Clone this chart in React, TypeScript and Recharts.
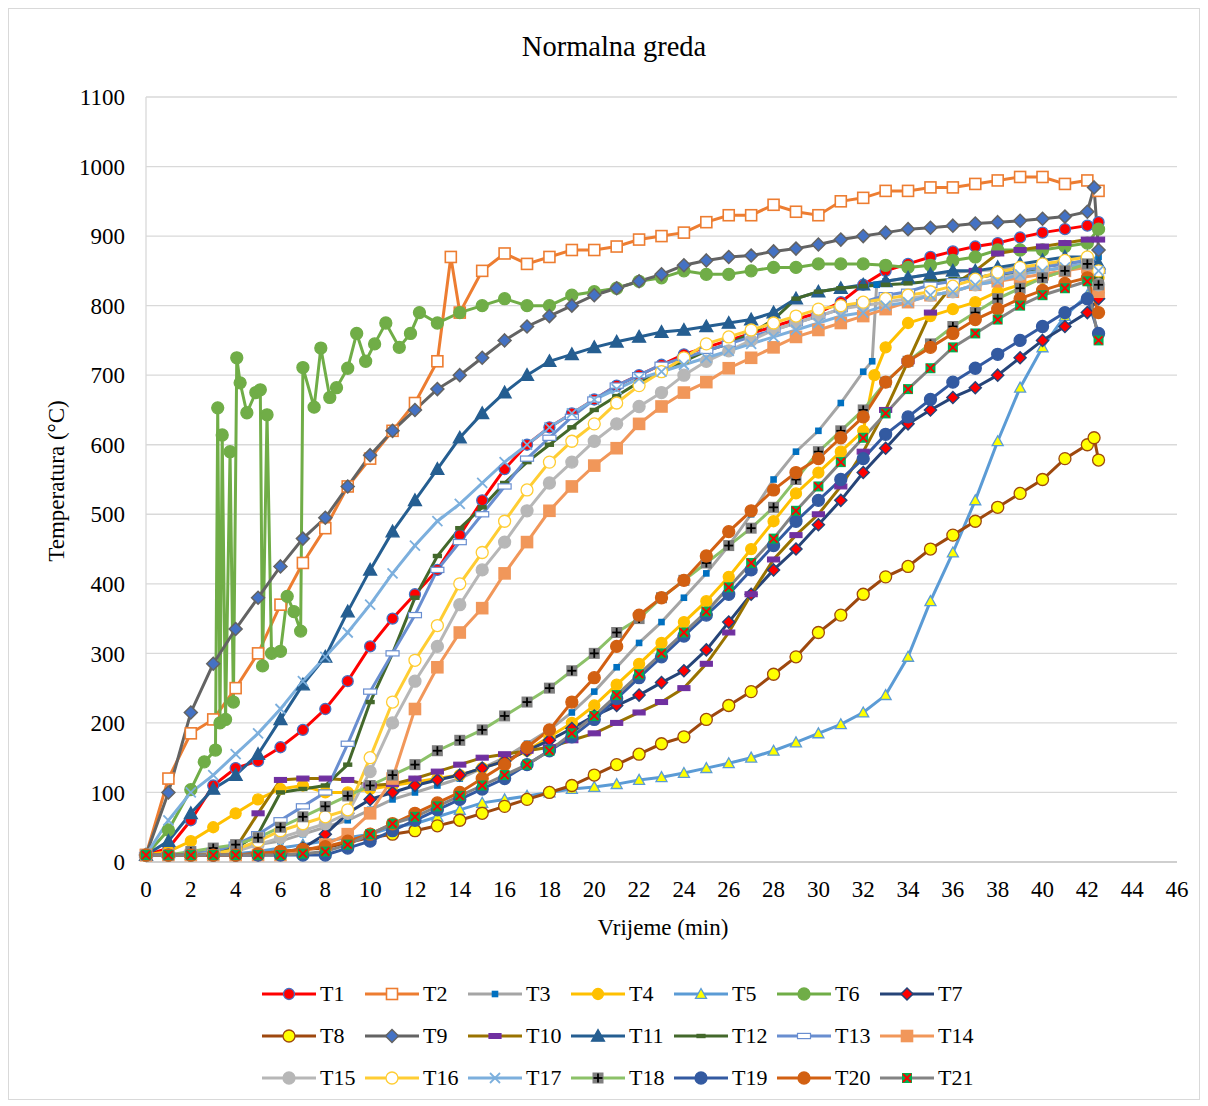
import React from "react";
import { LineChart, Line, XAxis, YAxis, CartesianGrid } from "recharts";

const FONT = '"Liberation Serif", "Times New Roman", serif';

// time grid shared by most series (minutes)
const minutes = [
  0, 1, 2, 3, 4, 5, 6, 7, 8, 9, 10, 11, 12, 13, 14, 15, 16, 17, 18, 19, 20, 21,
  22, 23, 24, 25, 26, 27, 28, 29, 30, 31, 32, 33, 34, 35, 36, 37, 38, 39, 40, 41,
  42, 42.5,
];

const xTicks = [0, 2, 4, 6, 8, 10, 12, 14, 16, 18, 20, 22, 24, 26, 28, 30, 32, 34, 36, 38, 40, 42, 44, 46];
const yTicks = [0, 100, 200, 300, 400, 500, 600, 700, 800, 900, 1000, 1100];

// temperatures (°C), one per entry of `minutes`
const t1 = [10, 20, 60, 110, 135, 145, 165, 190, 220, 260, 310, 350, 385, 420, 470, 520, 565, 600, 625, 645, 665, 685, 700, 715, 730, 740, 750, 760, 770, 780, 790, 805, 830, 850, 860, 870, 878, 885, 890, 898, 905, 910, 915, 920];
const t2 = [10, 120, 185, 205, 250, 300, 370, 430, 480, 540, 580, 620, 660, 720, 790, 850, 875, 860, 870, 880, 880, 885, 895, 900, 905, 920, 930, 930, 945, 935, 930, 950, 955, 965, 965, 970, 970, 975, 980, 985, 985, 975, 980, 965];
const t3 = [10, 10, 12, 15, 20, 25, 30, 40, 50, 60, 75, 90, 100, 110, 120, 135, 150, 170, 190, 215, 245, 280, 315, 345, 380, 415, 455, 500, 550, 590, 620, 660, 705, 835, 840, 845, 848, 850, 852, 855, 858, 860, 865, 870];
const t4 = [10, 15, 30, 50, 70, 90, 105, 110, 100, 100, 105, 110, 115, 120, 125, 135, 145, 160, 180, 200, 225, 255, 285, 315, 345, 375, 410, 450, 490, 530, 560, 590, 620, 740, 775, 785, 795, 805, 820, 830, 840, 850, 858, 840];
const t5 = [10, 10, 10, 10, 12, 15, 20, 25, 30, 35, 40, 50, 55, 65, 75, 85, 90, 95, 100, 105, 108, 112, 118, 122, 128, 135, 142, 150, 160, 172, 185, 198, 215, 240, 295, 375, 445, 520, 605, 682, 740, 785, 815, 825];
const t7 = [10, 10, 10, 10, 10, 10, 12, 20, 40, 70, 90, 100, 110, 118, 125, 135, 145, 160, 175, 192, 210, 225, 240, 258, 275, 305, 345, 385, 420, 450, 485, 520, 560, 595, 630, 650, 668, 682, 700, 725, 750, 770, 790, 810];
const t8 = [10, 10, 10, 10, 10, 12, 15, 18, 20, 28, 35, 40, 45, 52, 60, 70, 80, 90, 100, 110, 125, 140, 155, 170, 180, 205, 225, 245, 270, 295, 330, 355, 385, 410, 425, 450, 470, 490, 510, 530, 550, 580, 600, 578];
const t9 = [10, 100, 215, 285, 335, 380, 425, 465, 495, 540, 585, 620, 650, 680, 700, 725, 750, 770, 785, 800, 815, 825, 835, 845, 858, 865, 870, 872, 878, 882, 888, 895, 900, 905, 910, 912, 915, 918, 920, 922, 925, 928, 935, 880];
const t10 = [10, 10, 10, 12, 20, 70, 118, 120, 120, 118, 110, 112, 120, 130, 140, 150, 155, 160, 165, 175, 185, 200, 215, 230, 250, 285, 330, 385, 435, 470, 500, 540, 590, 650, 720, 790, 830, 850, 875, 880, 885, 890, 895, 895];
const t11 = [10, 30, 70, 105, 125, 155, 205, 255, 295, 360, 420, 475, 520, 565, 610, 645, 675, 700, 720, 730, 740, 748, 755, 762, 765, 770, 775, 780, 790, 810, 820, 825, 830, 835, 840, 845, 850, 850, 855, 860, 865, 870, 870, 860];
const t12 = [10, 10, 12, 15, 20, 40, 100, 105, 110, 140, 230, 300, 380, 440, 480, 510, 545, 575, 600, 625, 650, 670, 690, 705, 720, 735, 745, 760, 780, 810, 820, 825, 828, 830, 832, 835, 838, 840, 845, 848, 850, 855, 860, 840];
const t13 = [10, 10, 12, 15, 25, 40, 60, 80, 100, 170, 245, 300, 355, 420, 460, 500, 540, 580, 610, 640, 665, 685, 700, 715, 725, 735, 745, 755, 765, 775, 785, 795, 805, 815, 820, 830, 835, 840, 845, 850, 855, 860, 865, 850];
const t14 = [10, 10, 10, 10, 10, 10, 10, 15, 25, 40, 70, 120, 220, 280, 330, 365, 415, 460, 505, 540, 570, 595, 630, 655, 675, 690, 710, 725, 740, 755, 765, 775, 785, 795, 805, 815, 820, 830, 835, 840, 845, 850, 855, 820];
const t15 = [10, 10, 10, 12, 15, 25, 35, 45, 55, 70, 130, 200, 260, 310, 370, 420, 460, 505, 545, 575, 605, 630, 655, 675, 700, 720, 735, 750, 765, 775, 785, 795, 800, 805, 810, 815, 820, 830, 840, 845, 850, 855, 860, 830];
const t16 = [10, 10, 10, 12, 18, 30, 45, 55, 65, 75, 150, 230, 290, 340, 400, 445, 490, 535, 575, 605, 630, 660, 685, 705, 725, 745, 755, 765, 775, 785, 795, 800, 805, 810, 815, 820, 828, 838, 848, 855, 860, 865, 870, 850];
const t17 = [10, 60, 100, 125, 155, 185, 220, 260, 295, 330, 370, 415, 455, 490, 515, 545, 575, 600, 625, 645, 665, 680, 695, 705, 715, 725, 735, 745, 755, 765, 775, 785, 790, 800, 805, 815, 820, 830, 835, 845, 850, 855, 860, 850];
const t18 = [10, 10, 15, 20, 25, 35, 50, 65, 80, 95, 110, 125, 140, 160, 175, 190, 210, 230, 250, 275, 300, 330, 350, 380, 405, 430, 455, 480, 510, 550, 590, 620, 650, 690, 720, 745, 770, 790, 810, 825, 840, 850, 860, 830];
const t19 = [10, 10, 10, 10, 10, 10, 10, 10, 10, 20, 30, 45, 60, 75, 90, 105, 120, 140, 160, 180, 205, 235, 265, 295, 325, 355, 385, 420, 455, 490, 520, 550, 580, 615, 640, 665, 690, 710, 730, 750, 770, 790, 810, 760];
const t20 = [10, 10, 10, 10, 10, 12, 15, 18, 22, 30, 40, 55, 70, 85, 100, 120, 140, 165, 190, 230, 265, 310, 355, 380, 405, 440, 475, 505, 535, 560, 580, 610, 640, 690, 720, 740, 760, 780, 795, 810, 822, 832, 840, 790];
const t21 = [10, 10, 10, 10, 10, 10, 10, 12, 15, 25, 40, 55, 65, 80, 95, 110, 125, 140, 160, 185, 210, 240, 270, 300, 330, 360, 395, 430, 465, 505, 540, 575, 610, 645, 680, 710, 740, 760, 780, 800, 815, 825, 835, 750];

// extra readings between grid minutes (jumps and spikes)
const t2Extra = [[13.6, 870]];
const t3Extra = [[32.4, 720], [32.6, 830]];
const t4Extra = [[32.5, 700]];
const t8Extra = [[42.3, 610]];
const t9Extra = [[42.3, 970]];

// T6 is noisy early on, so it has its own time list
const t6Times = [0, 1, 2, 2.6, 3.1, 3.2, 3.3, 3.4, 3.55, 3.75, 3.9, 4.05, 4.2, 4.5, 4.9, 5.1, 5.2, 5.4, 5.6, 6, 6.3, 6.6, 6.9, 7, 7.5, 7.8, 8.2, 8.5, 9, 9.4, 9.8, 10.2, 10.7, 11.3, 11.8, 12.2, 13, 14, 15, 16, 17, 18, 19, 20, 21, 22, 23, 24, 25, 26, 27, 28, 29, 30, 31, 32, 33, 34, 35, 36, 37, 38, 39, 40, 41, 42, 42.5];
const t6 = [10, 46, 104, 144, 161, 653, 200, 614, 205, 590, 230, 725, 689, 646, 675, 679, 282, 643, 300, 303, 382, 360, 332, 711, 654, 739, 668, 682, 710, 760, 720, 745, 775, 740, 760, 790, 775, 790, 800, 810, 800, 800, 815, 820, 825, 835, 840, 850, 845, 845, 850, 855, 855, 860, 860, 860, 858, 855, 858, 865, 870, 880, 880, 880, 885, 890, 910];

type Pt = { t: number; v: number };

function toPoints(vals: number[], extra: number[][] = [], times: number[] = minutes): Pt[] {
  const pts = times.map((t, i) => ({ t, v: vals[i] }));
  extra.forEach(([t, v]) => pts.push({ t, v }));
  return pts.sort((a, b) => a.t - b.t);
}

type Mk = { shape: string; s: number; fill: string; stroke: string };

function drawMarker(m: Mk, x: number, y: number, key?: string) {
  const h = m.s / 2;
  let el: React.ReactNode = null;
  switch (m.shape) {
    case "circle":
      el = <circle cx={x} cy={y} r={h} fill={m.fill} stroke={m.stroke} strokeWidth={1.3} />;
      break;
    case "square":
      el = <rect x={x - h} y={y - h} width={m.s} height={m.s} fill={m.fill} stroke={m.stroke} strokeWidth={1.6} />;
      break;
    case "dash":
      el = <rect x={x - h} y={y - m.s * 0.2} width={m.s} height={m.s * 0.4} fill={m.fill} stroke={m.stroke} strokeWidth={1.2} />;
      break;
    case "triangle":
      el = <polygon points={`${x},${y - h} ${x + h},${y + h * 0.8} ${x - h},${y + h * 0.8}`} fill={m.fill} stroke={m.stroke} strokeWidth={1.3} />;
      break;
    case "diamond":
      el = <polygon points={`${x},${y - h} ${x + h},${y} ${x},${y + h} ${x - h},${y}`} fill={m.fill} stroke={m.stroke} strokeWidth={1.5} />;
      break;
    case "x":
      el = (
        <g stroke={m.stroke} strokeWidth={1.8}>
          <line x1={x - h} y1={y - h} x2={x + h} y2={y + h} />
          <line x1={x - h} y1={y + h} x2={x + h} y2={y - h} />
        </g>
      );
      break;
    case "plusBox":
      el = (
        <g>
          <rect x={x - h} y={y - h} width={m.s} height={m.s} fill={m.fill} />
          <g stroke={m.stroke} strokeWidth={1.8}>
            <line x1={x} y1={y - h + 1} x2={x} y2={y + h - 1} />
            <line x1={x - h + 1} y1={y} x2={x + h - 1} y2={y} />
          </g>
        </g>
      );
      break;
    case "xBox":
      el = (
        <g>
          <rect x={x - h} y={y - h} width={m.s} height={m.s} fill={m.fill} />
          <g stroke={m.stroke} strokeWidth={1.8}>
            <line x1={x - h + 1} y1={y - h + 1} x2={x + h - 1} y2={y + h - 1} />
            <line x1={x - h + 1} y1={y + h - 1} x2={x + h - 1} y2={y - h + 1} />
          </g>
        </g>
      );
      break;
  }
  return <g key={key}>{el}</g>;
}

const series = [
  { name: "T1", color: "#FF0000", mk: { shape: "circle", s: 11, fill: "#FF0000", stroke: "#4472C4" }, data: toPoints(t1) },
  { name: "T2", color: "#ED7D31", mk: { shape: "square", s: 11, fill: "#FFFFFF", stroke: "#ED7D31" }, data: toPoints(t2, t2Extra) },
  { name: "T3", color: "#A5A5A5", mk: { shape: "square", s: 5, fill: "#0070C0", stroke: "#0070C0" }, data: toPoints(t3, t3Extra) },
  { name: "T4", color: "#FFC000", mk: { shape: "circle", s: 11, fill: "#FFC000", stroke: "#FFC000" }, data: toPoints(t4, t4Extra) },
  { name: "T5", color: "#5B9BD5", mk: { shape: "triangle", s: 11, fill: "#FFFF00", stroke: "#5B9BD5" }, data: toPoints(t5) },
  { name: "T6", color: "#70AD47", mk: { shape: "circle", s: 12, fill: "#70AD47", stroke: "#70AD47" }, data: toPoints(t6, [], t6Times) },
  { name: "T7", color: "#264478", mk: { shape: "diamond", s: 12, fill: "#FF0000", stroke: "#264478" }, data: toPoints(t7) },
  { name: "T8", color: "#9E480E", mk: { shape: "circle", s: 12, fill: "#FFFF00", stroke: "#9E480E" }, data: toPoints(t8, t8Extra) },
  { name: "T9", color: "#636363", mk: { shape: "diamond", s: 13, fill: "#4472C4", stroke: "#636363" }, data: toPoints(t9, t9Extra) },
  { name: "T10", color: "#997300", mk: { shape: "dash", s: 12, fill: "#7030A0", stroke: "#7030A0" }, data: toPoints(t10) },
  { name: "T11", color: "#255E91", mk: { shape: "triangle", s: 13, fill: "#255E91", stroke: "#255E91" }, data: toPoints(t11) },
  { name: "T12", color: "#43682B", mk: { shape: "dash", s: 8, fill: "#43682B", stroke: "#43682B" }, data: toPoints(t12) },
  { name: "T13", color: "#698ED0", mk: { shape: "dash", s: 13, fill: "#FFFFFF", stroke: "#698ED0" }, data: toPoints(t13) },
  { name: "T14", color: "#F1975A", mk: { shape: "square", s: 11, fill: "#F1975A", stroke: "#F1975A" }, data: toPoints(t14) },
  { name: "T15", color: "#B7B7B7", mk: { shape: "circle", s: 12, fill: "#B7B7B7", stroke: "#B7B7B7" }, data: toPoints(t15) },
  { name: "T16", color: "#FFCD33", mk: { shape: "circle", s: 12, fill: "#FFFFFF", stroke: "#FFCD33" }, data: toPoints(t16) },
  { name: "T17", color: "#7CAFDD", mk: { shape: "x", s: 10, fill: "none", stroke: "#7CAFDD" }, data: toPoints(t17) },
  { name: "T18", color: "#8CC168", mk: { shape: "plusBox", s: 11, fill: "#7F7F7F", stroke: "#000000" }, data: toPoints(t18) },
  { name: "T19", color: "#335AA1", mk: { shape: "circle", s: 12, fill: "#335AA1", stroke: "#335AA1" }, data: toPoints(t19) },
  { name: "T20", color: "#D26012", mk: { shape: "circle", s: 12, fill: "#D26012", stroke: "#D26012" }, data: toPoints(t20) },
  { name: "T21", color: "#848484", mk: { shape: "xBox", s: 10, fill: "#00B050", stroke: "#FF0000" }, data: toPoints(t21) },
];

function LegendBox() {
  return (
    <div style={{ position: "absolute", left: 253, top: 964, width: 730 }}>
      {series.map((s, i) => {
        const col = i % 7;
        const row = Math.floor(i / 7);
        return (
          <div
            key={s.name}
            style={{ position: "absolute", left: col * 103, top: row * 42, height: 42, display: "flex", alignItems: "center" }}
          >
            <svg width={56} height={22}>
              <line x1={0} y1={11} x2={54} y2={11} stroke={s.color} strokeWidth={3} />
              {drawMarker(s.mk as Mk, 27, 11)}
            </svg>
            <span style={{ fontFamily: FONT, fontSize: 22, marginLeft: 2, color: "#000" }}>{s.name}</span>
          </div>
        );
      })}
    </div>
  );
}

export default function App() {
  const tick = { fontSize: 23, fill: "#000", fontFamily: FONT };
  return (
    <div style={{ position: "relative", width: 1192, height: 1092, border: "1px solid #d9d9d9", boxSizing: "border-box", background: "#fff" }}>
      <div style={{ position: "absolute", left: 0, top: 22, width: 1210, textAlign: "center", fontFamily: FONT, fontSize: 28.5 }}>
        Normalna greda
      </div>
      <LineChart width={1190} height={1090} margin={{ top: 88, right: 22, left: 77, bottom: 207 }}>
        <CartesianGrid vertical={false} stroke="#d9d9d9" strokeWidth={1.3} />
        <XAxis
          dataKey="t"
          type="number"
          domain={[0, 46]}
          ticks={xTicks}
          allowDuplicatedCategory={false}
          tick={tick}
          tickLine={false}
          tickMargin={13}
          axisLine={{ stroke: "#c8c8c8", strokeWidth: 1.3 }}
          height={30}
          interval={0}
        />
        <YAxis
          type="number"
          domain={[0, 1100]}
          ticks={yTicks}
          tick={tick}
          tickLine={false}
          tickMargin={15}
          axisLine={{ stroke: "#d9d9d9", strokeWidth: 1.3 }}
          width={60}
          interval={0}
        />
        {series.map((s) => (
          <Line
            key={s.name}
            data={s.data}
            dataKey="v"
            name={s.name}
            stroke={s.color}
            strokeWidth={3}
            isAnimationActive={false}
            activeDot={false}
            dot={(p: any) => drawMarker(s.mk as Mk, p.cx, p.cy, `${s.name}-${p.index}`)}
          />
        ))}
      </LineChart>
      <div style={{ position: "absolute", left: 0, top: 906, width: 1308, textAlign: "center", fontFamily: FONT, fontSize: 23 }}>
        Vrijeme (min)
      </div>
      <div
        style={{
          position: "absolute",
          left: 48,
          top: 472,
          fontFamily: FONT,
          fontSize: 23,
          whiteSpace: "nowrap",
          transform: "translate(-50%, -50%) rotate(-90deg)",
        }}
      >
        Temperatura (°C)
      </div>
      <LegendBox />
    </div>
  );
}
